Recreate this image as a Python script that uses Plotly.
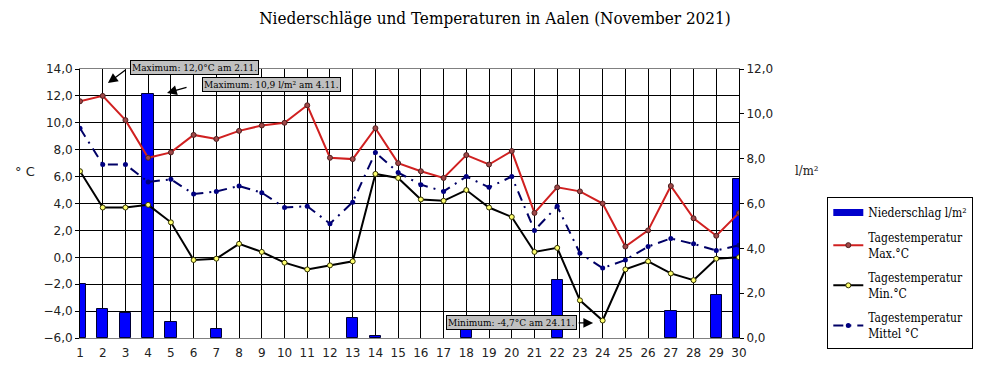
import plotly.graph_objects as go

days = list(range(1, 31))
niederschlag = [2.4, 1.3, 1.1, 10.9, 0.7, 0, 0.4, 0, 0, 0, 0, 0, 0.9, 0.1, 0,
                0, 0, 0.6, 0, 0, 0, 2.6, 0, 0, 0, 0, 1.2, 0, 1.9, 7.1]
t_max = [11.6, 12.0, 10.2, 7.4, 7.8, 9.1, 8.8, 9.4, 9.8, 10.0, 11.3, 7.4, 7.3, 9.6, 7.0,
         6.4, 5.9, 7.6, 6.9, 7.9, 3.3, 5.2, 4.9, 4.0, 0.8, 2.0, 5.3, 2.9, 1.6, 3.3]
t_min = [6.4, 3.7, 3.7, 3.9, 2.6, -0.2, -0.1, 1.0, 0.4, -0.4, -0.9, -0.6, -0.3, 6.2, 5.9,
         4.3, 4.2, 5.0, 3.7, 3.0, 0.4, 0.7, -3.2, -4.7, -0.9, -0.3, -1.2, -1.7, -0.1, 0.0]
t_mean = [9.6, 6.9, 6.9, 5.6, 5.8, 4.7, 4.9, 5.3, 4.8, 3.7, 3.8, 2.5, 4.1, 7.8, 6.3,
          5.4, 4.9, 6.0, 5.2, 6.0, 2.0, 3.8, 0.3, -0.8, -0.2, 0.8, 1.4, 1.0, 0.5, 0.9]

title = "Niederschläge und Temperaturen in Aalen (November 2021)"
names = ["Niederschlag l/m²", "Tagestemperatur<br>Max.°C",
         "Tagestemperatur<br>Min.°C", "Tagestemperatur<br>Mittel °C"]
notes = ["Maximum: 12,0°C am 2.11.", "Maximum: 10,9 l/m² am 4.11.",
         "Minimum: -4,7°C am 24.11."]

SERIF = "DejaVu Serif Condensed, DejaVu Serif, serif"
SANS = "DejaVu Sans, Verdana, sans-serif"

fig = go.Figure()
fig.add_trace(go.Bar(x=days, y=niederschlag, name=names[0], yaxis="y", width=0.5,
                     marker=dict(color="#0000ff",
                                 line=dict(color="#000033",
                                           width=[1 if v > 0 else 0 for v in niederschlag])),
                     showlegend=False))
# legend entry for the bars (wide rectangle symbol like the original)
fig.add_trace(go.Scatter(x=[None], y=[None], name=names[0], yaxis="y", mode="lines",
                         line=dict(color="#0000cc", width=7), legendgroup="a"))
fig.add_trace(go.Scatter(x=days, y=t_max, name=names[1], yaxis="y2", mode="lines+markers",
                         line=dict(color="#d02020", width=2),
                         marker=dict(size=5, color="#a04848", line=dict(color="#502020", width=1)),
                         legendgroup="b"))
fig.add_trace(go.Scatter(x=days, y=t_min, name=names[2], yaxis="y2", mode="lines+markers",
                         line=dict(color="#000000", width=2),
                         marker=dict(size=5, color="#ffff70", line=dict(color="#303000", width=1)),
                         legendgroup="c"))
fig.add_trace(go.Scatter(x=days, y=t_mean, name=names[3], yaxis="y2", mode="lines+markers",
                         line=dict(color="#000066", width=2, dash="10px,6px,2px,6px"),
                         marker=dict(size=5, color="#000080"),
                         legendgroup="d"))

boxfont = dict(family=SERIF, size=10, color="black")
# text boxes
fig.add_annotation(text=notes[0], x=6.06, y=1.0335, xref="x", yref="paper", showarrow=False,
                   font=boxfont, bgcolor="#c0c0c0", bordercolor="black", borderwidth=1,
                   borderpad=1)
fig.add_annotation(text=notes[1], x=9.41, y=12.88, xref="x", yref="y2", showarrow=False,
                   font=boxfont, bgcolor="#c0c0c0", bordercolor="black", borderwidth=1,
                   borderpad=1)
fig.add_annotation(text=notes[2], x=20.01, y=-4.88, xref="x", yref="y2", showarrow=False,
                   font=boxfont, bgcolor="#c0c0c0", bordercolor="black", borderwidth=1,
                   borderpad=1)
# arrows
arrows = [(2.23, 12.96, 19, -14), (4.83, 12.22, 21, -6), (23.58, -4.88, -16, 0)]
for axx, ayy, ox, oy in arrows:
    fig.add_annotation(text="", x=axx, y=ayy, xref="x", yref="y2", showarrow=True,
                       ax=ox, ay=oy, arrowhead=2, arrowsize=1.5, arrowwidth=1.3,
                       arrowcolor="black")

fig.add_annotation(text="° C", xref="paper", yref="paper", x=-0.083, y=0.618,
                   xanchor="center", showarrow=False,
                   font=dict(family=SANS, size=13, color="#222"))
fig.add_annotation(text="l/m²", xref="paper", yref="paper", x=1.102, y=0.622,
                   xanchor="center", showarrow=False,
                   font=dict(family=SERIF, size=13, color="#222"))

fig.update_layout(
    width=1000, height=382,
    margin=dict(l=80, r=261, t=69, b=44),
    paper_bgcolor="white", plot_bgcolor="white",
    separators=",.",
    title=dict(text=title, x=0.495, xref="container", xanchor="center", y=0.953,
               yanchor="middle", font=dict(family=SERIF, size=17, color="black")),
    bargap=0,
    xaxis=dict(range=[1, 30], tickvals=days, ticktext=[str(d) for d in days],
               showgrid=True, gridcolor="black", gridwidth=1, zeroline=False,
               showline=True, linecolor="#808080", mirror=True,
               ticks="outside", ticklen=4, tickcolor="white",
               tickfont=dict(family=SANS, size=12, color="#222")),
    yaxis=dict(range=[0, 12], dtick=2, tickformat=".1f", side="right",
               showgrid=False, zeroline=False, showline=True, linecolor="black",
               ticks="outside", ticklen=4, tickcolor="black",
               tickfont=dict(family=SANS, size=12, color="#222")),
    yaxis2=dict(range=[-6, 14], dtick=2, tickformat=".1f", side="left", overlaying="y",
                showgrid=True, gridcolor="black", gridwidth=1, zeroline=False,
                showline=True, linecolor="black", ticks="outside", ticklen=4,
                tickcolor="black", tickfont=dict(family=SANS, size=12, color="#222")),
    legend=dict(x=1.134, y=0.524, xanchor="left", yanchor="top",
                bordercolor="black", borderwidth=1, bgcolor="white",
                font=dict(family=SERIF, size=12, color="black"),
                traceorder="grouped", tracegroupgap=6),
    showlegend=True,
)

fig.write_html("out.html", config={"displayModeBar": False},
               post_script="document.body.style.margin='0';")
